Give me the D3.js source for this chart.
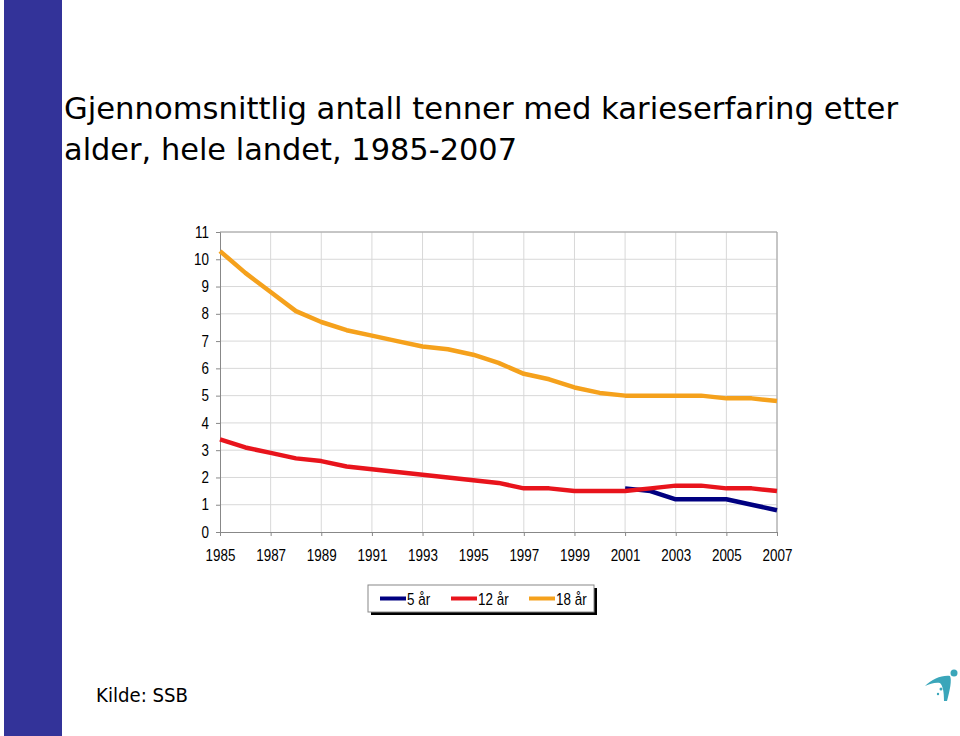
<!DOCTYPE html>
<html><head><meta charset="utf-8">
<script src="https://cdn.jsdelivr.net/npm/d3@7"></script>
<style>body{margin:0;background:#fff}svg{display:block}</style>
</head><body>
<svg id="c" width="960" height="736"></svg>
<script>
const years = d3.range(1985, 2008);
const tickYears = [1985,1987,1989,1991,1993,1995,1997,1999,2001,2003,2005,2007];
const yTicks = [0,1,2,3,4,5,6,7,8,9,10,11];
const seriesNames = ["5 år", "12 år", "18 år"];
const seriesColors = ["#000080", "#e8141c", "#f5a11c"];
const age5 = [null,null,null,null,null,null,null,null,null,null,null,null,null,null,null,null,1.6,1.5,1.2,1.2,1.2,1.0,0.8];
const age12 = [3.4,3.1,2.9,2.7,2.6,2.4,2.3,2.2,2.1,2.0,1.9,1.8,1.6,1.6,1.5,1.5,1.5,1.6,1.7,1.7,1.6,1.6,1.5];
const age18 = [10.3,9.5,8.8,8.1,7.7,7.4,7.2,7.0,6.8,6.7,6.5,6.2,5.8,5.6,5.3,5.1,5.0,5.0,5.0,5.0,4.9,4.9,4.8];
const titleLines = ["Gjennomsnittlig antall tenner med karieserfaring etter", "alder, hele landet, 1985-2007"];
const source = "Kilde: SSB";

const svg = d3.select("#c");
svg.append("rect").attr("x",4).attr("y",0).attr("width",58).attr("height",736).attr("fill","#333399");

const titleFont = "'Comic Sans MS','DejaVu Sans',sans-serif";
svg.append("text").attr("x",64).attr("y",119).attr("font-family",titleFont).attr("font-size",30)
  .attr("textLength",834).attr("lengthAdjust","spacingAndGlyphs").attr("fill","#000").text(titleLines[0]);
svg.append("text").attr("x",64).attr("y",160).attr("font-family",titleFont).attr("font-size",30)
  .attr("textLength",453).attr("lengthAdjust","spacingAndGlyphs").attr("fill","#000").text(titleLines[1]);

const x = d3.scaleLinear().domain([1985,2007]).range([220,777]);
const y = d3.scaleLinear().domain([0,11]).range([532,232]);

const g = svg.append("g");
g.selectAll(".hg").data(yTicks.slice(1)).join("line").attr("x1",220).attr("x2",777)
  .attr("y1",d=>y(d)).attr("y2",d=>y(d)).attr("stroke","#d8d8d8").attr("stroke-width",1);
g.selectAll(".vg").data(tickYears.slice(1)).join("line").attr("y1",232).attr("y2",532)
  .attr("x1",d=>x(d)).attr("x2",d=>x(d)).attr("stroke","#d8d8d8").attr("stroke-width",1);
g.append("line").attr("x1",220).attr("x2",777).attr("y1",232).attr("y2",232).attr("stroke","#a0a0a0");
g.append("line").attr("x1",777).attr("x2",777).attr("y1",232).attr("y2",532).attr("stroke","#a0a0a0");

const axisFont = "'Liberation Sans', Arial, sans-serif";
const yAxis = svg.append("g").attr("transform","translate(220,0)")
  .call(d3.axisLeft(y).tickValues(yTicks).tickSize(4).tickPadding(6).tickFormat(d3.format("d")));
const xAxis = svg.append("g").attr("transform","translate(0,532)")
  .call(d3.axisBottom(x).tickValues(tickYears).tickSize(4).tickPadding(9).tickFormat(d3.format("d")));
[yAxis,xAxis].forEach(a=>{
  a.select(".domain").attr("stroke","#888");
  a.selectAll(".tick line").attr("stroke","#888");
  a.selectAll("text").attr("font-family",axisFont).attr("font-size",16).attr("fill","#000");
});
yAxis.selectAll(".tick text").attr("x",0).attr("transform","translate(-11,0) scale(0.84,1)");
xAxis.selectAll(".tick text").attr("y",17.5).attr("transform","scale(0.84,1)");

const line = d3.line().defined(d=>d.v!=null).x(d=>x(d.yr)).y(d=>y(d.v));
const data = [age5, age12, age18];
data.forEach((s,i)=>{
  svg.append("path").datum(years.map((yr,j)=>({yr, v:s[j]})))
    .attr("d",line).attr("fill","none").attr("stroke",seriesColors[i])
    .attr("stroke-width",4.5).attr("stroke-linejoin","round");
});

// legend
const lg = svg.append("g");
lg.append("rect").attr("x",371).attr("y",588).attr("width",226).attr("height",27).attr("fill","#000");
lg.append("rect").attr("x",368).attr("y",585).attr("width",226).attr("height",27).attr("fill","#fff").attr("stroke","#888").attr("stroke-width",1);
const lx = [380, 451, 529];
seriesNames.forEach((n,i)=>{
  lg.append("line").attr("x1",lx[i]).attr("x2",lx[i]+26).attr("y1",598.5).attr("y2",598.5)
    .attr("stroke",seriesColors[i]).attr("stroke-width",4);
  lg.append("text").attr("transform",`translate(${lx[i]+27},605) scale(0.84,1)`)
    .attr("font-family",axisFont).attr("font-size",16).attr("fill","#000").text(n);
});

svg.append("text").attr("x",96).attr("y",702).attr("font-family",titleFont).attr("font-size",19)
  .attr("textLength",92).attr("lengthAdjust","spacingAndGlyphs").attr("fill","#000").text(source);

const logo = svg.append("g").attr("fill","#3aa6ba");
logo.append("path").attr("d","M925,686 C932,679 942,675 950,676 C952,680 950,690 947,701 L944,701 C944,692 943,686 940,683 C935,682 930,684 925,686 Z");
logo.append("circle").attr("cx",954).attr("cy",673).attr("r",3.5);
logo.append("circle").attr("cx",941).attr("cy",689).attr("r",1.5);
logo.append("circle").attr("cx",938).attr("cy",694).attr("r",1.2);
</script>
</body></html>
